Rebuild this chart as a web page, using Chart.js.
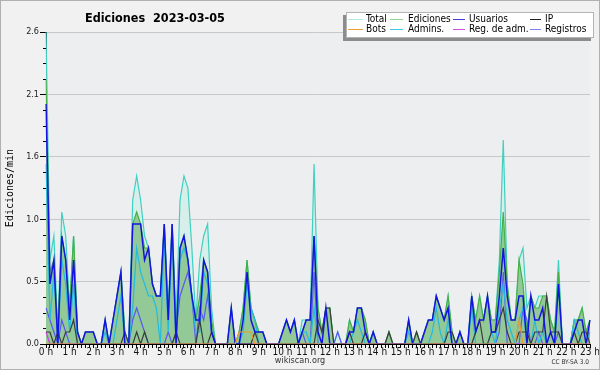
<!DOCTYPE html>
<html>
<head>
<meta charset="utf-8">
<title>Ediciones 2023-03-05</title>
<style>
  html, body { margin: 0; padding: 0; background: #f1f1f1; }
  canvas { display: block; }
</style>
</head>
<body>
<canvas id="chart" width="600" height="370"></canvas>
<script src="https://cdn.jsdelivr.net/npm/chart.js@4"></script>
<script>
// tick labels
const hours = ['0 h','1 h','2 h','3 h','4 h','5 h','6 h','7 h','8 h','9 h','10 h','11 h',
               '12 h','13 h','14 h','15 h','16 h','17 h','18 h','19 h','20 h','21 h','22 h','23 h'];
const yTicks = [0, 0.13, 0.26, 0.39, 0.52, 0.65, 0.78, 0.91, 1.04, 1.17, 1.3, 1.43,
                1.56, 1.69, 1.82, 1.95, 2.08, 2.21, 2.34, 2.47, 2.6];

// one value per 10 minutes, 00:00 .. 23:00 (edits per minute)
const total = [
  2.6,0.7,0.9,0.1,1.1,0.9,0.3,0.9,0.1,0,
  0.1,0.1,0.1,0,0,0.2,0,0.2,0.4,0.6,
  0.1,0,1.2,1.4,1.2,0.9,0.8,0.5,0.4,0.4,
  1.0,0.3,1.0,0.2,1.2,1.4,1.3,0.8,0.2,0.7,
  0.9,1.0,0.3,0,0,0,0,0.3,0,0.1,
  0.3,0.7,0.3,0.2,0.1,0.1,0,0,0,0,
  0.1,0.2,0.1,0.2,0,0.2,0.2,0.2,1.5,0.3,
  0.1,0.3,0.3,0,0.1,0,0,0.2,0.1,0.3,
  0.3,0.2,0,0.1,0,0,0,0.1,0,0,
  0,0,0.2,0,0.1,0,0.1,0.2,0.2,0.4,
  0.3,0.2,0.4,0.1,0,0.1,0,0,0.4,0.2,
  0.4,0.2,0.4,0.2,0.2,0.7,1.7,0.5,0.2,0.2,
  0.7,0.8,0.3,0.4,0.3,0.4,0.4,0.4,0.2,0.1,
  0.7,0,0,0,0.2,0.2,0.3,0.1,0.2
];
const ediciones = [
  2.2,0.6,0.7,0.1,0.9,0.7,0.3,0.9,0.1,0,
  0.1,0.1,0.1,0,0,0.2,0,0.2,0.4,0.6,
  0.1,0,1.0,1.1,1.0,0.8,0.8,0.5,0.4,0.4,
  1.0,0.2,1.0,0.1,0.8,0.9,0.7,0.4,0.2,0.4,
  0.7,0.6,0.2,0,0,0,0,0.3,0,0.1,
  0.3,0.7,0.3,0.2,0.1,0.1,0,0,0,0,
  0.1,0.2,0.1,0.2,0,0.1,0.2,0.2,0.9,0.3,
  0.1,0.3,0.3,0,0,0,0,0.2,0.1,0.3,
  0.3,0.2,0,0.1,0,0,0,0.1,0,0,
  0,0,0.2,0,0.1,0,0.1,0.2,0.2,0.4,
  0.3,0.2,0.4,0.1,0,0.1,0,0,0.4,0.2,
  0.4,0.2,0.4,0.2,0.2,0.6,1.1,0.5,0.2,0.2,
  0.7,0.5,0.1,0.4,0.3,0.3,0.4,0.4,0.2,0.1,
  0.6,0,0,0,0.2,0.2,0.3,0.1,0.2
];
const usuarios = [
  2.0,0.5,0.7,0,0.9,0.7,0.2,0.7,0.1,0,
  0.1,0.1,0.1,0,0,0.2,0,0.2,0.4,0.6,
  0,0,1.0,1.0,1.0,0.7,0.8,0.5,0.4,0.4,
  1.0,0.2,1.0,0,0.8,0.9,0.7,0.4,0.2,0.2,
  0.7,0.6,0.1,0,0,0,0,0.3,0,0,
  0.2,0.6,0.2,0.1,0.1,0.1,0,0,0,0,
  0.1,0.2,0.1,0.2,0,0.1,0.2,0.2,0.9,0.1,
  0,0.3,0,0,0,0,0,0.1,0.1,0.3,
  0.3,0.1,0,0.1,0,0,0,0,0,0,
  0,0,0.2,0,0,0,0.1,0.2,0.2,0.4,
  0.3,0.2,0.3,0,0,0.1,0,0,0.4,0.1,
  0.2,0.2,0.4,0.1,0.1,0.4,0.8,0.4,0.2,0.2,
  0.4,0.4,0,0.4,0.2,0.2,0.3,0,0.1,0,
  0.5,0,0,0,0.1,0.2,0.2,0,0.2
];
const ip = [
  0.1,0.1,0,0.1,0,0.1,0.1,0.2,0,0,
  0,0,0,0,0,0,0,0,0,0,
  0.1,0,0,0.1,0,0.1,0,0,0,0,
  0,0,0,0.1,0,0,0,0,0,0.2,
  0,0,0.1,0,0,0,0,0,0,0,
  0,0,0,0.1,0,0,0,0,0,0,
  0,0,0,0,0,0,0,0,0,0.2,
  0.1,0.3,0.3,0,0,0,0,0.1,0,0,
  0,0.1,0,0,0,0,0,0.1,0,0,
  0,0,0,0,0.1,0,0,0,0,0,
  0,0,0.1,0.1,0,0,0,0,0,0.1,
  0.2,0,0,0.1,0.1,0.2,0.3,0.1,0,0,
  0.1,0.1,0.1,0,0.1,0.1,0.1,0.4,0.1,0.1,
  0.1,0,0,0,0.1,0,0.1,0.1,0
];
const bots = [
  0,0,0,0,0,0,0,0,0,0,
  0,0,0,0,0,0,0,0,0,0,
  0,0,0,0,0,0,0,0,0,0,
  0,0,0,0,0,0,0,0,0,0,
  0,0,0,0,0,0,0,0,0,0.1,
  0.1,0.1,0.1,0,0,0,0,0,0,0,
  0,0,0,0,0,0,0,0,0,0,
  0,0,0,0,0,0,0,0,0,0,
  0,0,0,0,0,0,0,0,0,0,
  0,0,0,0,0,0,0,0,0,0,
  0,0,0,0,0,0,0,0,0,0,
  0,0,0,0,0,0,0,0,0,0,
  0.2,0,0,0,0,0,0,0,0,0,
  0,0,0,0,0,0,0,0,0
];
const admins = [
  1.5,0.2,0.6,0,0.7,0.5,0.1,0.5,0,0,
  0,0,0,0,0,0.1,0,0,0.2,0.4,
  0,0,0.3,0.8,0.6,0.5,0.4,0.4,0.3,0,
  0.9,0.1,0.9,0,0.7,0.8,0.7,0.4,0.1,0.1,
  0.6,0.5,0.1,0,0,0,0,0,0,0,
  0.1,0.5,0.3,0.2,0,0,0,0,0,0,
  0,0,0,0,0,0.1,0.1,0,0.3,0,
  0,0,0,0,0,0,0,0,0.1,0.2,
  0.1,0,0,0,0,0,0,0,0,0,
  0,0,0.1,0,0,0,0,0,0.1,0.3,
  0.1,0,0.2,0,0,0,0,0,0.3,0,
  0,0,0,0.1,0,0.3,0.5,0.2,0.1,0,
  0.2,0.3,0,0,0.2,0,0.1,0,0,0,
  0.5,0,0,0,0.2,0.1,0,0,0.1
];
const regAdm = [
  0.1,0,0,0,0,0,0,0,0,0,
  0,0,0,0,0,0,0,0,0,0,
  0,0,0,0,0,0,0,0,0,0,
  0,0,0,0,0,0,0,0,0,0,
  0,0,0,0,0,0,0,0,0,0,
  0,0,0,0,0,0,0,0,0,0,
  0,0,0,0,0,0,0,0,0,0,
  0,0,0,0,0,0,0,0,0,0,
  0,0,0,0,0,0,0,0,0,0,
  0,0,0,0,0,0,0,0,0,0,
  0,0,0,0,0,0,0,0,0,0,
  0,0,0,0,0,0,0,0,0,0,
  0,0,0,0,0,0,0,0,0,0,
  0,0,0,0,0,0,0,0,0
];
const registros = [
  0.3,0.2,0.1,0,0.2,0.1,0,0,0,0,
  0,0,0,0,0,0,0,0,0,0,
  0,0,0.2,0.3,0.2,0.1,0,0,0,0,
  0,0.1,0,0.1,0.4,0.5,0.6,0.4,0,0.3,
  0.2,0.4,0.1,0,0,0,0,0,0,0,
  0,0,0,0,0,0,0,0,0,0,
  0,0,0,0,0,0.1,0,0,0.6,0,
  0,0,0,0,0.1,0,0,0,0,0,
  0,0,0,0,0,0,0,0,0,0,
  0,0,0,0,0,0,0,0,0,0,
  0,0,0,0,0,0,0,0,0,0,
  0,0,0,0,0,0.1,0.6,0,0,0,
  0,0.3,0.2,0,0,0.1,0,0,0,0,
  0.1,0,0,0,0,0,0,0,0
];

// 10-minute slot labels
const slots = [];
for (let h = 0; h < 23; h++) {
  for (let m = 0; m < 60; m += 10) slots.push(h + ':' + String(m).padStart(2, '0'));
}
slots.push('23:00');

const FONT = "'DejaVu Sans Condensed', 'DejaVu Sans', sans-serif";

function line(label, data, color, legendColor, order, extra) {
  return Object.assign({
    label, data, borderColor: color, legendColor, order,
    borderWidth: 1.2, pointRadius: 0, tension: 0, fill: false
  }, extra || {});
}

const datasets = [
  line('Total', total, '#3fd0c2', '#b0e8e8', 9, { fill: 'origin', backgroundColor: '#d6efea' }),
  line('Ediciones', ediciones, '#45b045', '#90d890', 8, { fill: 'origin', backgroundColor: '#93c897' }),
  line('Usuarios', usuarios, '#1414e0', '#4040e0', 1, { borderWidth: 1.5 }),
  line('IP', ip, '#3c3c3c', '#202020', 2),
  line('Bots', bots, '#f09a30', '#f0a040', 0),
  line('Admins.', admins, '#22bce0', '#40c8e0', 3),
  line('Reg. de adm.', regAdm, '#d040e0', '#d050e0', 4),
  line('Registros', registros, '#5a5af0', '#8080f0', 5)
];

const decor = {
  id: 'decor',
  beforeDraw(chart) {
    const { ctx, chartArea: a } = chart;
    ctx.save();
    ctx.fillStyle = '#f1f1f1';
    ctx.fillRect(0, 0, chart.width, chart.height);
    ctx.fillStyle = '#edeef0';
    ctx.fillRect(a.left, a.top, a.right - a.left, a.bottom - a.top);
    ctx.restore();
  },
  afterDraw(chart) {
    const { ctx, chartArea: a } = chart;
    const y = chart.scales.y;
    ctx.save();
    // minor y ticks
    ctx.strokeStyle = '#000';
    ctx.lineWidth = 1;
    ctx.beginPath();
    yTicks.forEach((v, i) => {
      if (i % 4 === 0) return;
      const py = Math.round(y.getPixelForValue(v)) + 0.5;
      ctx.moveTo(a.left - 3, py);
      ctx.lineTo(a.left, py);
    });
    ctx.stroke();

    // title
    ctx.fillStyle = '#000';
    ctx.font = "bold 12.5px " + FONT;
    ctx.textBaseline = 'alphabetic';
    ctx.textAlign = 'left';
    ctx.fillText('Ediciones  2023-03-05', 85, 22);

    // legend box with shadow
    ctx.fillStyle = '#8c8c8c';
    ctx.fillRect(343, 15, 248, 26);
    ctx.fillStyle = '#ffffff';
    ctx.fillRect(346, 12, 248, 26);
    ctx.strokeStyle = '#b4b4b4';
    ctx.strokeRect(346.5, 12.5, 247, 25);
    const sx = [348, 390, 453, 530], sw = [15, 13, 12, 11], tx = [366, 408, 469, 545];
    ctx.font = "10px " + FONT;
    ctx.textBaseline = 'middle';
    chart.data.datasets.forEach((ds, k) => {
      const c = k % 4, r = Math.floor(k / 4);
      const ly = 19.5 + r * 10;
      ctx.strokeStyle = ds.legendColor;
      ctx.lineWidth = 1;
      ctx.beginPath();
      ctx.moveTo(sx[c], ly);
      ctx.lineTo(sx[c] + sw[c], ly);
      ctx.stroke();
      ctx.fillStyle = '#000';
      ctx.fillText(ds.label, tx[c], ly);
    });

    // footer
    ctx.fillStyle = '#333';
    ctx.font = "9px " + FONT;
    ctx.textAlign = 'center';
    ctx.fillText('wikiscan.org', 300, 361);
    ctx.font = "6.5px " + FONT;
    ctx.textAlign = 'right';
    ctx.fillText('CC BY-SA 3.0', 589, 362);

    // frame
    ctx.strokeStyle = '#b0b0b0';
    ctx.lineWidth = 1;
    ctx.strokeRect(0.5, 0.5, chart.width - 1, chart.height - 1);
    ctx.restore();
  }
};

new Chart(document.getElementById('chart'), {
  type: 'line',
  data: { labels: slots, datasets },
  options: {
    responsive: false,
    animation: false,
    devicePixelRatio: 1,
    layout: { padding: { top: 32, right: 10, left: 0, bottom: 0 } },
    plugins: { legend: { display: false }, tooltip: { enabled: false } },
    scales: {
      x: {
        type: 'category',
        offset: false,
        afterFit(scale) { scale.height = 26; },
        border: { display: true, color: '#000', width: 1 },
        grid: { drawOnChartArea: false, drawTicks: true, tickLength: 4, tickColor: '#000', color: 'transparent' },
        ticks: {
          autoSkip: false, maxRotation: 0, minRotation: 0, padding: -2,
          color: '#111', font: { family: FONT, size: 10 },
          callback: (v, i) => (i % 6 === 0 ? hours[i / 6] : '')
        }
      },
      y: {
        min: 0, max: 2.6,
        afterFit(scale) { scale.width = 46; },
        afterBuildTicks(scale) { scale.ticks = yTicks.map(v => ({ value: v })); },
        border: { display: true, color: '#000', width: 1 },
        grid: {
          tickLength: 6,
          color: c => (c.index % 4 === 0 && c.index > 0 ? '#c8c8c8' : 'transparent'),
          tickColor: c => (c.index % 4 === 0 ? '#000' : 'transparent')
        },
        ticks: {
          autoSkip: false, padding: 1, color: '#222',
          font: { family: FONT, size: 9 },
          callback: (v, i) => (i % 4 === 0 ? Number(yTicks[i]).toFixed(1) : '')
        },
        title: {
          display: true, text: 'Ediciones/min', color: '#000',
          font: { family: 'DejaVu Sans Mono', size: 10 }
        }
      }
    }
  },
  plugins: [decor]
});
</script>
</body>
</html>
